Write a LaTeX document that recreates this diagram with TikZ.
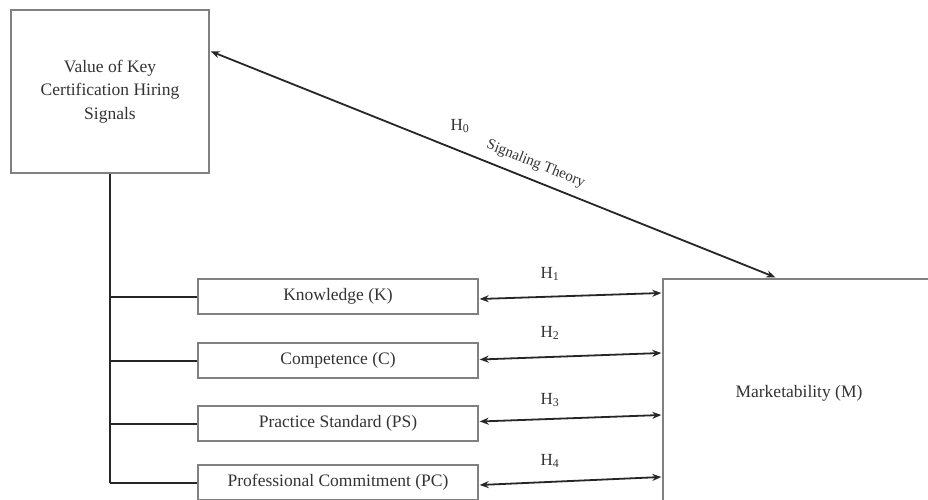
\documentclass[tikz,border=0pt]{standalone}
\usepackage{fontspec}
\setmainfont{Liberation Serif}
\usetikzlibrary{arrows.meta,calc}
\begin{document}
\begin{tikzpicture}[x=1pt,y=-1pt,
  every node/.style={font=\fontsize{17.5}{23.5}\selectfont, text=black!80},
  boxstyle/.style={draw=black!50, line width=1.4pt, inner sep=0pt, align=center},
  smallbox/.style={boxstyle, minimum width=280pt, minimum height=35pt},
  conn/.style={line width=2pt, black!85},
  harrow/.style={line width=1.8pt, black!85, {Stealth[length=9pt,width=7pt]}-{Stealth[length=9pt,width=7pt]}},
  hlabel/.style={font=\fontsize{17}{20}\selectfont}
]
\useasboundingbox (0,0) rectangle (928,500);
\fill[white] (0,0) rectangle (928,500);

\node[boxstyle, minimum width=198pt, minimum height=163pt] (vk) at (110,91.5)
  {Value of Key\\Certification Hiring\\Signals};

\node[smallbox] (K)  at (338,296.5) {Knowledge (K)};
\node[smallbox] (C)  at (338,360.5) {Competence (C)};
\node[smallbox] (PS) at (338,423.5) {Practice Standard (PS)};
\node[smallbox] (PC) at (338,482.5) {Professional Commitment (PC)};

\node[boxstyle, minimum width=272pt, minimum height=228pt] (M) at (799,393) {Marketability (M)};

% tree lines
\draw[conn] (vk.south) -- (vk.south |- PC.west);
\draw[conn] (vk.south |- K.west) -- (K.west);
\draw[conn] (vk.south |- C.west) -- (C.west);
\draw[conn] (vk.south |- PS.west) -- (PS.west);
\draw[conn] (vk.south |- PC.west) -- (PC.west);

% hypothesis arrows
\draw[harrow] ($(K.east)+(1,2.5)$) -- ($(K.east -| M.west)+(-1,-3.5)$);
\draw[harrow] ($(C.east)+(1,-1)$) -- ($(C.east -| M.west)+(-1,-7.5)$);
\draw[harrow] ($(PS.east)+(1,-2)$) -- ($(PS.east -| M.west)+(-1,-8.5)$);
\draw[harrow] ($(PC.east)+(1,2.5)$) -- ($(PC.east -| M.west)+(-1,-5.5)$);

\node[hlabel] (h1) at (550,274) {H\textsubscript{1}};
\node[hlabel] (h2) at (550,333) {H\textsubscript{2}};
\node[hlabel] (h3) at (550,400) {H\textsubscript{3}};
\node[hlabel] (h4) at (550,461) {H\textsubscript{4}};

% H0 arrow
\draw[harrow] ($(vk.north east)+(1,42)$) -- node[sloped, above=5pt, pos=0.565, font=\fontsize{15}{17}\selectfont] (st) {Signaling Theory} ($(M.north west)+(113,-1)$);
\node[hlabel] (h0) at (460,126) {H\textsubscript{0}};
\end{tikzpicture}
\end{document}
